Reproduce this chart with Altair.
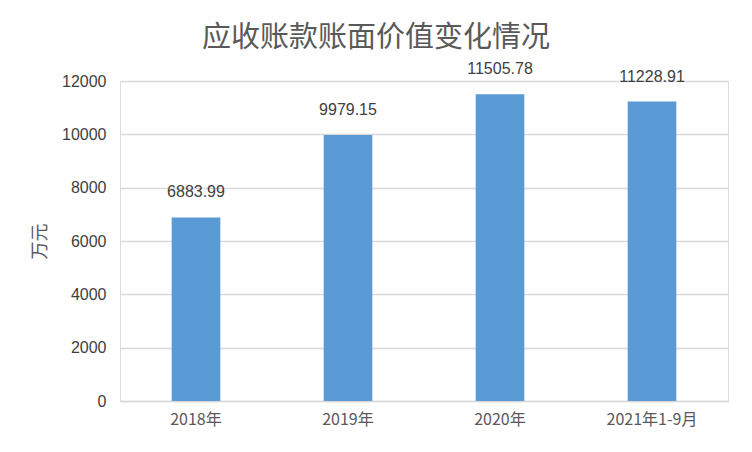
import altair as alt
import pandas as pd

categories = ["2018年", "2019年", "2020年", "2021年1-9月"]
values = [6883.99, 9979.15, 11505.78, 11228.91]
labels = ["6883.99", "9979.15", "11505.78", "11228.91"]
y_ticks = [0, 2000, 4000, 6000, 8000, 10000, 12000]

df = pd.DataFrame({"cat": categories, "val": values, "lab": labels})

FONT = "Noto Sans CJK SC"
LABEL_FONT = "Liberation Sans"

x = alt.X("cat:N", sort=categories, title=None,
          scale=alt.Scale(paddingInner=0.68, paddingOuter=0.34),
          axis=alt.Axis(labelAngle=0, labelFont=FONT, labelFontSize=16,
                        labelColor="#595959", labelPadding=10, ticks=False,
                        domainColor="#d9d9d9", domainWidth=1.5, grid=False))
y = alt.Y("val:Q", title="万元",
          scale=alt.Scale(domain=[0, 12000]),
          axis=alt.Axis(values=y_ticks, format="d", labelFont=LABEL_FONT, labelFontSize=16,
                        labelColor="#404040", labelPadding=14, ticks=False,
                        domain=False, gridColor="#d9d9d9", gridWidth=1.5,
                        titleFont=FONT, titleFontSize=18, titleColor="#595959",
                        titleFontWeight="normal", titleX=-80, titleY=160,
                        titleAngle=-90, titleAlign="center", titleBaseline="middle"))

bars = alt.Chart(df).mark_bar(color="#5b9bd5").encode(x=x, y=y)
text = alt.Chart(df).mark_text(dy=-17, baseline="bottom", font=LABEL_FONT,
                               fontSize=16, color="#404040").encode(
    x=alt.X("cat:N", sort=categories), y="val:Q", text="lab:N")

chart = (bars + text).properties(
    width=608, height=320,
    padding={"left": 112, "top": 73, "right": 16, "bottom": 40},
    autosize=alt.AutoSizeParams(type="none"),
    title=alt.TitleParams("应收账款账面价值变化情况", font=FONT, fontSize=29,
                          fontWeight="normal", color="#595959", anchor="middle",
                          dx=-48, offset=8),
).configure_view(stroke=None).configure(background="white")

chart.save("out.html", embed_options={"renderer": "svg", "actions": False})
